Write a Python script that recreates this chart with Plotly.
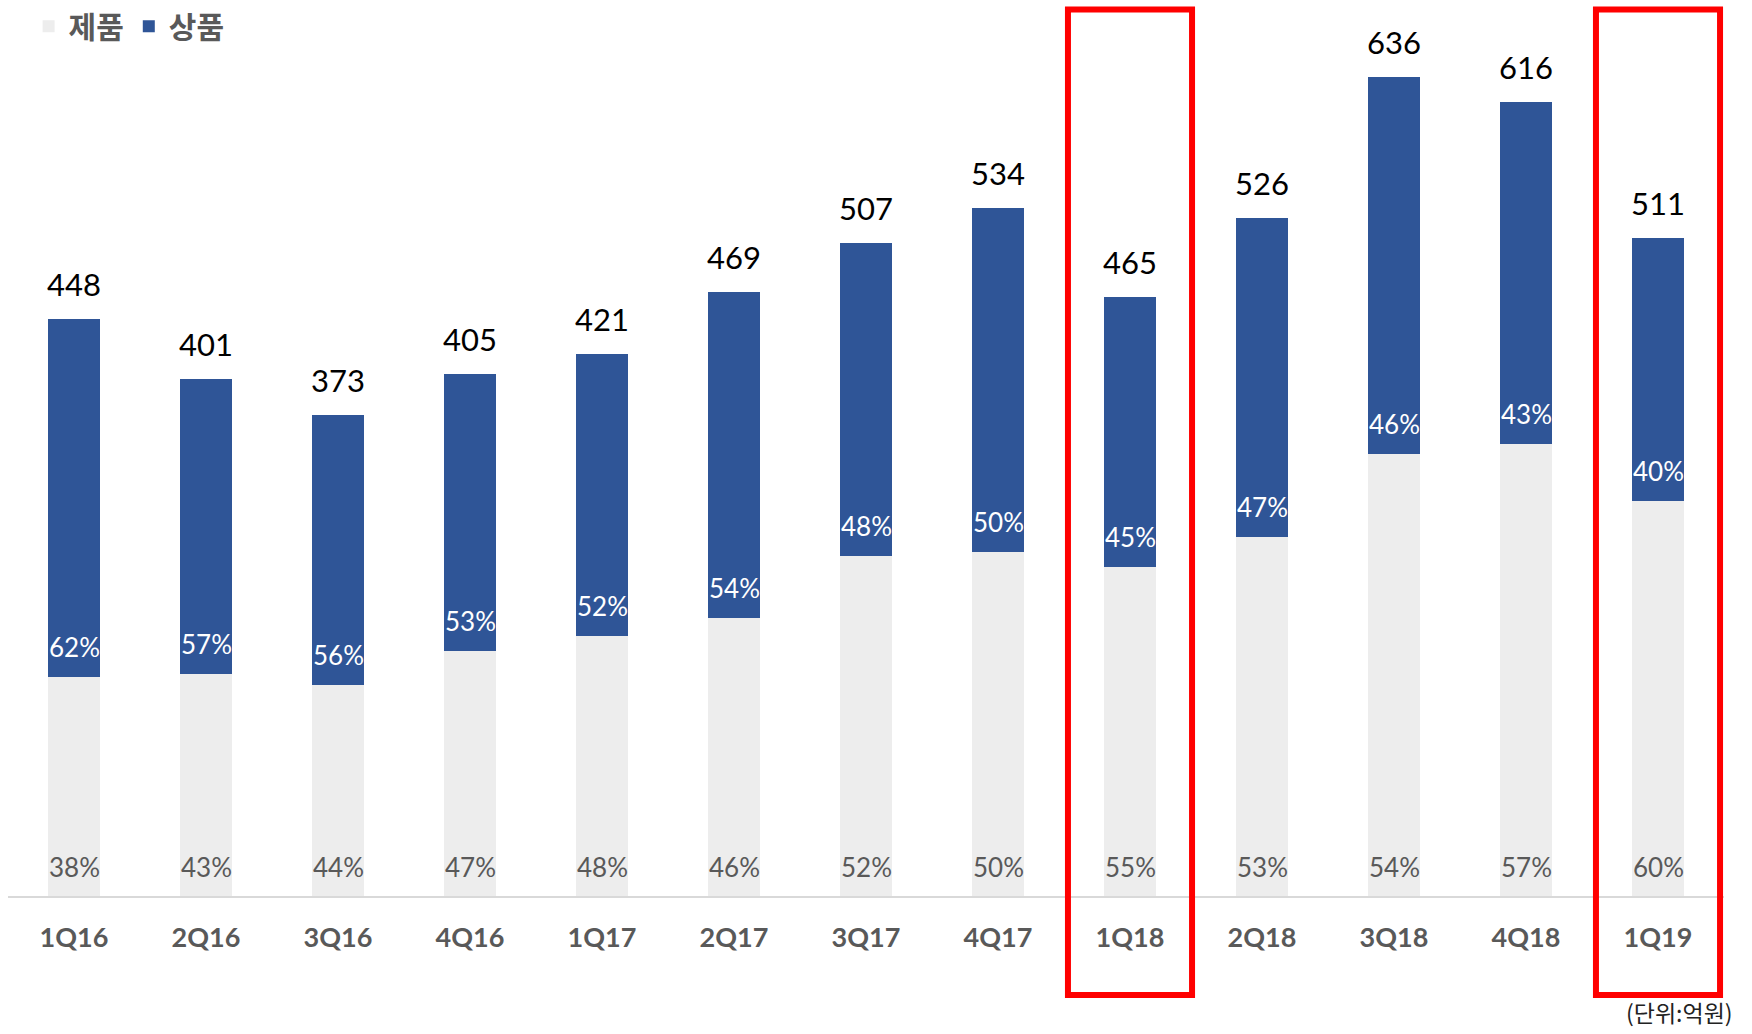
import plotly.graph_objects as go

quarters = ["1Q16", "2Q16", "3Q16", "4Q16", "1Q17", "2Q17", "3Q17", "4Q17",
            "1Q18", "2Q18", "3Q18", "4Q18", "1Q19"]
totals = [448, 401, 373, 405, 421, 469, 507, 534, 465, 526, 636, 616, 511]
jepum_pct = [38, 43, 44, 47, 48, 46, 52, 50, 55, 53, 54, 57, 60]
sangpum_pct = [62, 57, 56, 53, 52, 54, 48, 50, 45, 47, 46, 43, 40]
highlighted = ["1Q18", "1Q19"]

jepum_vals = [t * p / 100 for t, p in zip(totals, jepum_pct)]
sangpum_vals = [t - j for t, j in zip(totals, jepum_vals)]

NUM_FONT = "Lato, 'Noto Sans CJK KR', sans-serif"
KR_FONT = "'Noto Sans CJK KR', sans-serif"
GRAY_TXT = "#595959"
BLUE = "#2f5597"
LIGHT = "#ededed"

fig = go.Figure()
fig.add_trace(go.Bar(x=quarters, y=jepum_vals, name="제품", marker_color=LIGHT,
                     marker_line_width=0, hoverinfo="skip"))
fig.add_trace(go.Bar(x=quarters, y=sangpum_vals, name="상품", marker_color=BLUE,
                     marker_line_width=0, hoverinfo="skip"))

annotations = []
for q, t, jp, sp, jv in zip(quarters, totals, jepum_pct, sangpum_pct, jepum_vals):
    annotations.append(dict(x=q, y=t, text=str(t), showarrow=False, yanchor="bottom",
                            yshift=14, font=dict(family=NUM_FONT, size=31, color="#000000")))
    annotations.append(dict(x=q, y=0, text=f"{jp}%", showarrow=False, yanchor="middle",
                            yshift=29, font=dict(family=NUM_FONT, size=26, color=GRAY_TXT)))
    annotations.append(dict(x=q, y=jv, text=f"{sp}%", showarrow=False, yanchor="middle",
                            yshift=30, font=dict(family=NUM_FONT, size=26, color="#ffffff")))

annotations.append(dict(xref="paper", yref="paper", x=1.006, y=-0.132, text="(단위:억원)",
                        showarrow=False, xanchor="right", yanchor="middle", borderpad=0,
                        font=dict(family=KR_FONT, size=23, color="#222222")))

shapes = []
for q in highlighted:
    i = quarters.index(q)
    shapes.append(dict(type="rect", xref="x", yref="paper", x0=i - 0.47, x1=i + 0.47,
                       y0=-0.113, y1=1.012, line=dict(color="#ff0000", width=6),
                       fillcolor="rgba(0,0,0,0)"))

fig.update_layout(
    barmode="stack",
    bargap=0.6,
    width=1752, height=1034,
    margin=dict(l=8, r=28, t=20, b=138, autoexpand=False),
    paper_bgcolor="white", plot_bgcolor="white",
    showlegend=True,
    legend=dict(orientation="h", x=0.012, y=1.0225, xanchor="left", yanchor="top",
                traceorder="normal",
                font=dict(family=KR_FONT, size=30, color=GRAY_TXT, weight="bold"),
                itemwidth=30, bgcolor="rgba(0,0,0,0)"),
    xaxis=dict(type="category", range=[-0.5, 12.5], showgrid=False, zeroline=False,
               showline=True, linecolor="#d9d9d9", linewidth=2, ticks="",
               ticklabelstandoff=17,
               tickfont=dict(family=NUM_FONT, size=27, color=GRAY_TXT, weight="bold")),
    yaxis=dict(range=[0, 680], visible=False, showgrid=False, zeroline=False),
    annotations=annotations,
    shapes=shapes,
)

fig.write_html("out.html")
